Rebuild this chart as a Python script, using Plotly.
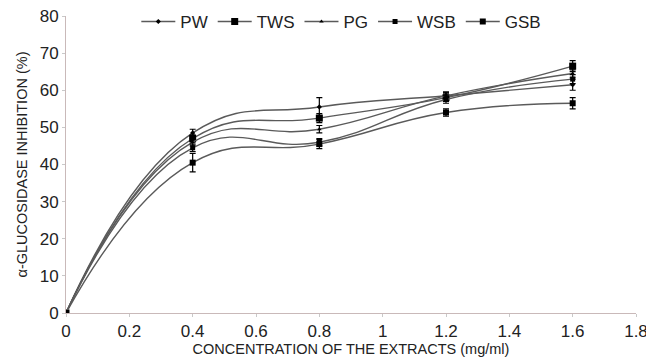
import plotly.graph_objects as go

conc = [0, 0.4, 0.8, 1.2, 1.6]
series_names = ["PW", "TWS", "PG", "WSB", "GSB"]
pw = [0, 48.5, 55.5, 58.5, 61.5]
tws = [0, 47.0, 52.5, 58.0, 66.5]
pg = [0, 46.0, 49.5, 58.5, 64.5]
wsb = [0, 44.5, 46.0, 57.5, 63.0]
gsb = [0, 40.5, 45.5, 54.0, 56.5]
pw_err = [0, 1.0, 2.5, 1.0, 1.5]
tws_err = [0, 1.0, 1.2, 1.0, 1.5]
pg_err = [0, 1.0, 1.0, 1.0, 1.0]
wsb_err = [0, 1.0, 1.0, 1.0, 1.2]
gsb_err = [0, 2.5, 1.2, 1.0, 1.5]

values = [pw, tws, pg, wsb, gsb]
errors = [pw_err, tws_err, pg_err, wsb_err, gsb_err]
symbols = ["diamond", "square", "triangle-up", "square", "square"]
sizes = [4, 7, 4, 5, 6]

fig = go.Figure()
for name, v, e, s, sz in zip(series_names, values, errors, symbols, sizes):
    fig.add_trace(go.Scatter(
        x=conc, y=v, name=name, mode="lines+markers",
        line=dict(color="#5a5a5a", width=1.4, shape="spline", smoothing=1.3),
        marker=dict(symbol=s, size=sz, color="black"),
        error_y=dict(type="data", array=e, color="black", thickness=1.2, width=3),
    ))

fig.update_layout(
    width=646, height=352,
    margin=dict(l=58, r=18, t=8, b=47, autoexpand=False),
    paper_bgcolor="white", plot_bgcolor="white",
    font=dict(family="Liberation Sans, Arial, sans-serif", color="#222"),
    showlegend=True,
    legend=dict(orientation="h", x=0.483, xanchor="center", y=0.98, yanchor="middle",
                font=dict(size=17), itemwidth=34, tracegroupgap=0,
                bgcolor="rgba(0,0,0,0)"),
    xaxis=dict(range=[0, 1.8], tickvals=[0, 0.2, 0.4, 0.6, 0.8, 1, 1.2, 1.4, 1.6, 1.8],
               ticktext=["0", "0.2", "0.4", "0.6", "0.8", "1", "1.2", "1.4", "1.6", "1.8"],
               showgrid=False, zeroline=False, showline=True, linecolor="#c9b9b9", linewidth=1,
               ticks="outside", ticklen=3, tickcolor="#c9c9c9",
               tickfont=dict(size=17), automargin=False, ticklabeloverflow="allow",
               title=dict(text="CONCENTRATION OF THE EXTRACTS (mg/ml)", font=dict(size=14.5), standoff=0)),
    yaxis=dict(range=[0, 80], dtick=10, showgrid=False, zeroline=False,
               showline=True, linecolor="#c9b9b9", linewidth=1,
               ticks="outside", ticklen=3, tickcolor="#c9c9c9",
               tickfont=dict(size=17), automargin=False, ticklabeloverflow="allow",
               title=dict(text="α-GLUCOSIDASE INHIBITION (%)", font=dict(size=14.5), standoff=8)),
)

fig.write_html("out.html")
